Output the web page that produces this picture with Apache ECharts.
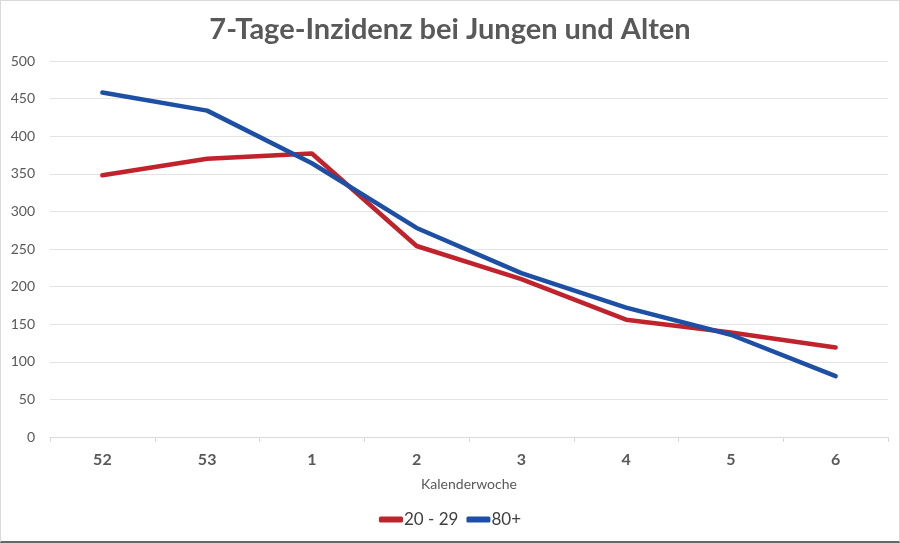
<!DOCTYPE html>
<html><head><meta charset="utf-8">
<script src="https://cdn.jsdelivr.net/npm/echarts@6/dist/echarts.min.js"></script>
<style>html,body{margin:0;padding:0;background:#fff}#c{width:900px;height:543px;box-sizing:border-box;border:1px solid #d9d9d9;border-bottom:2px solid #666}</style>
</head><body><div id="c"></div>
<script>
const categories = ['52','53','1','2','3','4','5','6'];
const young = [348, 370, 377, 254, 210, 156, 139, 119];
const old = [458, 434, 364, 278, 218, 172, 136, 81];
const yTicks = {min:0, max:500, interval:50};

const chart = echarts.init(document.getElementById('c'));
chart.setOption({
  animation:false,
  title:{text:'7-Tage-Inzidenz bei Jungen und Alten', left:'center', top:9,
    textStyle:{fontFamily:'Lato', fontWeight:'bold', fontSize:29, color:'#595959'}},
  grid:{left:49, right:11, top:60, bottom:104},
  legend:{bottom:8, left:'center', itemWidth:24, itemHeight:6, itemGap:8, icon:'roundRect',
    textStyle:{fontFamily:'Lato', fontSize:17, color:'#404040', padding:[0,0,0,-4]},
    data:['20 - 29','80+']},
  xAxis:{type:'category', data:categories, boundaryGap:true,
    name:'Kalenderwoche', nameLocation:'middle', nameGap:40,
    nameTextStyle:{fontFamily:'Lato', fontSize:14, color:'#595959'},
    axisLine:{lineStyle:{color:'#d9d9d9'}},
    axisTick:{show:true, length:5, lineStyle:{color:'#d9d9d9'}},
    axisLabel:{fontFamily:'Lato', fontWeight:'bold', fontSize:16, color:'#595959', margin:15}},
  yAxis:{type:'value', min:yTicks.min, max:yTicks.max, interval:yTicks.interval,
    axisLine:{show:false}, axisTick:{show:false},
    splitLine:{lineStyle:{color:'#e3e3e3'}},
    axisLabel:{fontFamily:'Lato', fontSize:14, color:'#595959', margin:15}},
  series:[
    {name:'20 - 29', type:'line', data:young, symbol:'none', color:'#C0232B',
     lineStyle:{width:4.5, color:'#C0232B', cap:'round', join:'round'}},
    {name:'80+', type:'line', data:old, symbol:'none', color:'#1D4FA5',
     lineStyle:{width:4.5, color:'#1D4FA5', cap:'round', join:'round'}}
  ]
});
</script></body></html>
